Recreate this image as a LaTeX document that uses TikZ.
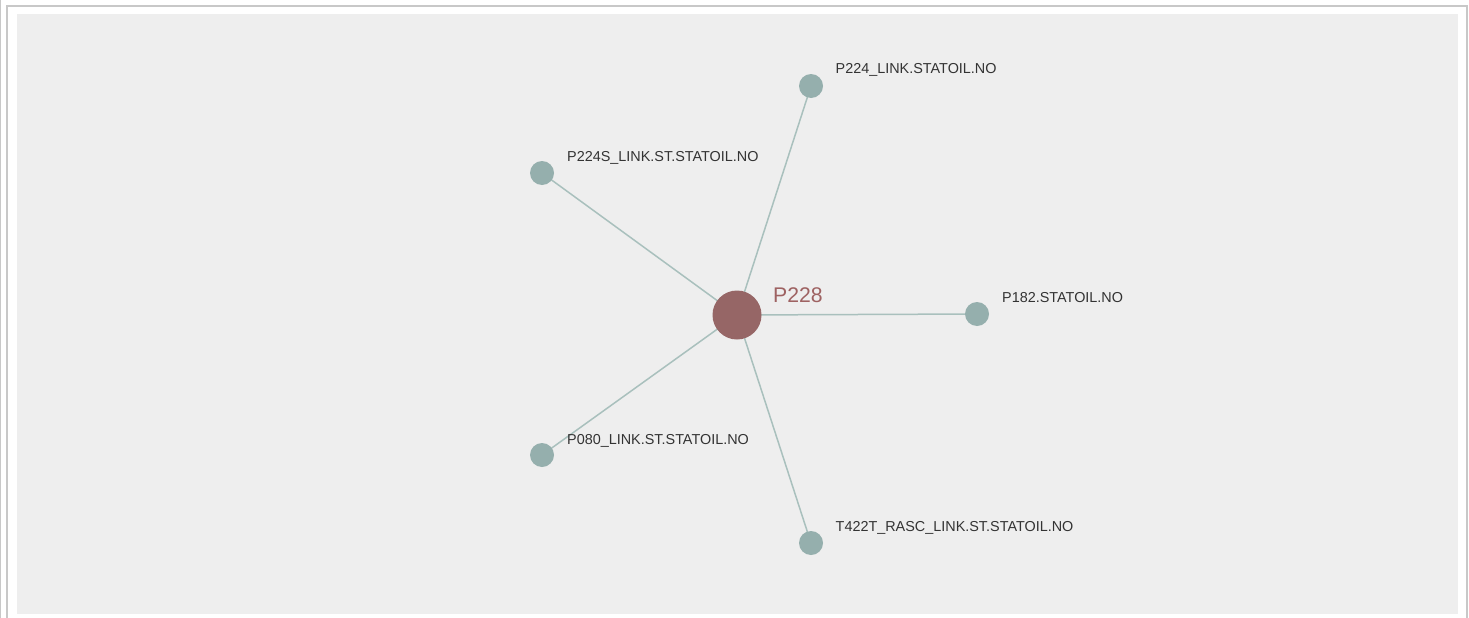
\documentclass[tikz,border=0pt]{standalone}
\usepackage{fontspec}
\setmainfont{Liberation Sans}
\usetikzlibrary{backgrounds}
\definecolor{panel}{HTML}{EEEEEE}
\definecolor{frame}{HTML}{C8C8C8}
\definecolor{hubfill}{HTML}{966666}
\definecolor{hubtext}{HTML}{9E6262}
\definecolor{leaffill}{HTML}{95AFAD}
\definecolor{edgecol}{HTML}{A9C0BD}
\definecolor{labtext}{HTML}{333333}
\begin{document}
\begin{tikzpicture}[x=1pt,y=-1pt,
  hub/.style={circle,fill=hubfill,draw=none,minimum size=49pt,inner sep=0pt},
  leaf/.style={circle,fill=leaffill,draw=none,minimum size=24pt,inner sep=0pt},
  link/.style={draw=edgecol,line width=1.5pt},
  leaflabel/.style={anchor=base west,inner sep=0pt,font=\fontsize{14.4}{16}\selectfont,text=labtext},
  hublabel/.style={anchor=base west,inner sep=0pt,font=\fontsize{21.2}{24}\selectfont,text=hubtext}]
\useasboundingbox (0,0) rectangle (1469,618);
% nodes
\node[hub] (c) at (737,315) {};
\node[leaf] (a) at (811,86) {};
\node[leaf] (b) at (542,173) {};
\node[leaf] (d) at (977,314) {};
\node[leaf] (e) at (542,455) {};
\node[leaf] (f) at (811,543) {};
% labels
\node[hublabel] (lc) at (773,302) {P228};
\node[leaflabel] (la) at (835.5,73.5) {P224\_LINK.STATOIL.NO};
\node[leaflabel] (lb) at (567,161) {P224S\_LINK.ST.STATOIL.NO};
\node[leaflabel] (ld) at (1002,302.5) {P182.STATOIL.NO};
\node[leaflabel] (le) at (567,444) {P080\_LINK.ST.STATOIL.NO};
\node[leaflabel] (lf) at (835.5,531) {T422T\_RASC\_LINK.ST.STATOIL.NO};
\begin{scope}[on background layer]
\fill[white] (0,0) rectangle (1469,618);
\draw[frame,line width=1pt] (0.5,0) -- (0.5,618);
\draw[frame,line width=2pt] (7,625) -- (7,6) -- (1467,6) -- (1467,625);
\fill[panel] (17,14) rectangle (1458,613.5);
\path[link] (c.center) -- (a.center);
\path[link] (c.center) -- (b.center);
\path[link] (c.center) -- (d.center);
\path[link] (c.center) -- (e.center);
\path[link] (c.center) -- (f.center);
\end{scope}
\end{tikzpicture}
\end{document}
